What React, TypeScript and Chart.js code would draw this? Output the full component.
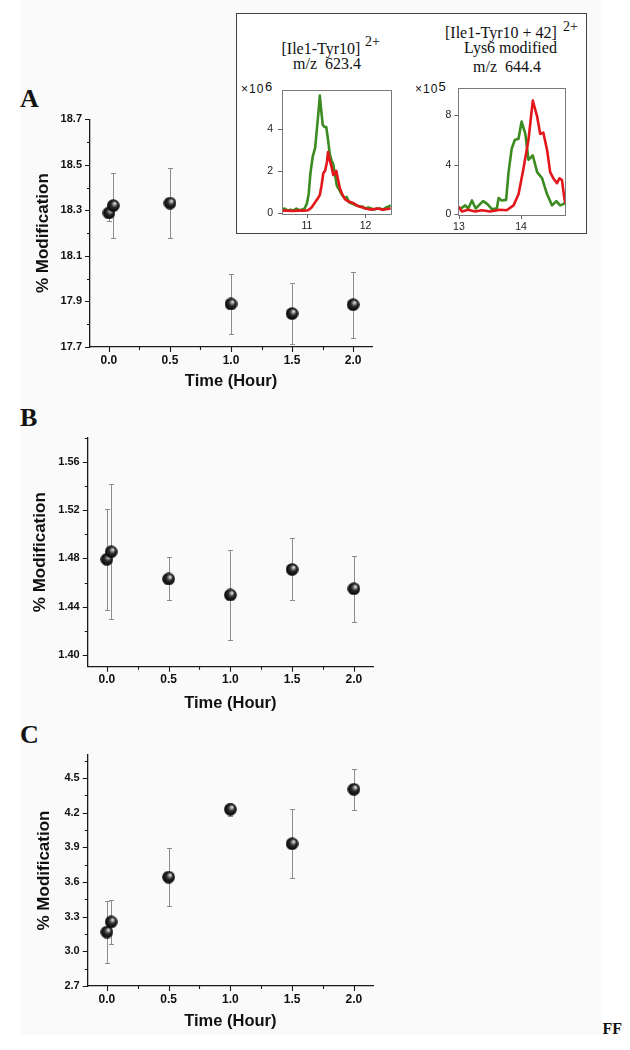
import React, { useEffect, useRef } from 'react';
import { Chart, registerables } from 'chart.js';

Chart.register(...registerables);

const SANS = '"Liberation Sans", Arial, Helvetica, sans-serif';
const SERIF = '"Liberation Serif", "Times New Roman", serif';

// ---------------- Panels A, B, C : % modification vs time ----------------
const timeHours = [0, 0.035, 0.5, 1.0, 1.5, 2.0];

const modificationA = [18.289, 18.321, 18.332, 17.889, 17.847, 17.886];
const errorA = [0.036, 0.144, 0.155, 0.13, 0.134, 0.145];

const modificationB = [1.4793, 1.4855, 1.463, 1.4497, 1.4709, 1.4549];
const errorB = [0.042, 0.056, 0.0178, 0.0373, 0.0257, 0.0273];

const modificationC = [3.167, 3.255, 3.643, 4.23, 3.932, 4.403];
const errorC = [0.27, 0.19, 0.25, 0.057, 0.3, 0.178];

const timeMajorTicks = [0, 0.5, 1.0, 1.5, 2.0];
const timeMinorTicks = [0.25, 0.75, 1.25, 1.75];

const yMajorA = [17.7, 17.9, 18.1, 18.3, 18.5, 18.7];
const yMinorA = [17.8, 18.0, 18.2, 18.4, 18.6];
const yMajorB = [1.4, 1.44, 1.48, 1.52, 1.56];
const yMinorB = [1.42, 1.46, 1.5, 1.54, 1.58];
const yMajorC = [2.7, 3.0, 3.3, 3.6, 3.9, 4.2, 4.5];
const yMinorC = [2.85, 3.15, 3.45, 3.75, 4.05, 4.35, 4.65];

// ---------------- Inset : extracted ion chromatograms ----------------
const leftGreenTime = [10.57, 10.62, 10.67, 10.72, 10.77, 10.82, 10.87, 10.92, 10.96, 11.0, 11.03, 11.06, 11.1, 11.14, 11.17, 11.2, 11.22, 11.24, 11.27, 11.3, 11.33, 11.36, 11.39, 11.42, 11.45, 11.48, 11.51, 11.55, 11.6, 11.64, 11.68, 11.72, 11.76, 11.8, 11.85, 11.9, 11.95, 12.0, 12.05, 12.1, 12.15, 12.2, 12.25, 12.3, 12.35, 12.4, 12.43];
const leftGreenIntensity = [0.15, 0.2, 0.1, 0.15, 0.1, 0.2, 0.12, 0.15, 0.2, 0.45, 0.9, 1.9, 2.7, 3.1, 4.0, 4.9, 5.6, 5.0, 4.2, 4.1, 4.1, 3.5, 2.8, 2.5, 2.3, 1.8, 1.3, 1.1, 0.85, 0.7, 0.75, 0.5, 0.45, 0.4, 0.35, 0.3, 0.3, 0.2, 0.25, 0.2, 0.15, 0.2, 0.2, 0.15, 0.25, 0.3, 0.35];
const leftRedTime = [10.57, 10.65, 10.75, 10.85, 10.95, 11.02, 11.08, 11.14, 11.19, 11.22, 11.25, 11.28, 11.31, 11.34, 11.36, 11.39, 11.42, 11.45, 11.48, 11.5, 11.53, 11.56, 11.6, 11.65, 11.7, 11.75, 11.8, 11.85, 11.9, 11.95, 12.0, 12.1, 12.2, 12.3, 12.43];
const leftRedIntensity = [0.1, 0.1, 0.08, 0.1, 0.1, 0.12, 0.25, 0.5, 0.7, 0.85, 1.3, 1.9, 2.0, 2.4, 2.9, 2.5, 2.2, 1.8, 1.9, 2.0, 1.6, 1.2, 0.9, 0.65, 0.55, 0.5, 0.45, 0.35, 0.3, 0.25, 0.2, 0.15, 0.2, 0.15, 0.2];

const rightGreenTime = [12.99, 13.05, 13.1, 13.15, 13.21, 13.27, 13.34, 13.39, 13.46, 13.53, 13.61, 13.64, 13.69, 13.76, 13.8, 13.85, 13.9, 13.96, 14.01, 14.07, 14.12, 14.19, 14.26, 14.34, 14.42, 14.5, 14.57, 14.63, 14.68, 14.72];
const rightGreenIntensity = [0.45, 0.5, 0.7, 0.45, 1.1, 0.45, 0.8, 1.05, 0.8, 0.4, 0.45, 1.3, 1.1, 1.15, 3.4, 5.3, 6.0, 6.1, 7.5, 6.5, 4.4, 4.75, 3.4, 2.9, 1.6, 0.7, 1.05, 0.7, 0.8, 0.95];
const rightRedTime = [12.99, 13.05, 13.15, 13.26, 13.37, 13.5, 13.66, 13.77, 13.88, 13.96, 14.04, 14.12, 14.19, 14.26, 14.31, 14.36, 14.42, 14.47, 14.52, 14.58, 14.62, 14.66, 14.7, 14.72];
const rightRedIntensity = [0.6, 0.2, 0.35, 0.2, 0.3, 0.2, 0.35, 0.3, 0.7, 1.6, 3.7, 6.0, 9.2, 7.9, 6.5, 6.6, 5.2, 3.4, 2.9, 2.5, 2.9, 2.75, 1.2, 0.85];

const leftInsetYTicks = [0, 2, 4];
const leftInsetXTicks = [11, 12];
const rightInsetYTicks = [0, 4, 8];
const rightInsetXTicks = [13, 14];

const RED = '#e2161b';
const GREEN = '#3b8b21';

// ---------------- helpers ----------------
function makeSphere(d: number) {
  const c = document.createElement('canvas');
  c.width = d;
  c.height = d;
  const g = c.getContext('2d')!;
  const grad = g.createRadialGradient(d * 0.64, d * 0.32, 0.3, d * 0.5, d * 0.5, d * 0.52);
  grad.addColorStop(0, '#f0f0f0');
  grad.addColorStop(0.18, '#9a9a9a');
  grad.addColorStop(0.45, '#2a2a2a');
  grad.addColorStop(1, '#000');
  g.fillStyle = grad;
  g.beginPath();
  g.arc(d / 2, d / 2, d / 2 - 0.2, 0, Math.PI * 2);
  g.fill();
  return c;
}

function ticksPlugin(cfg: any) {
  return {
    id: 'axisTicks',
    afterDraw(chart: any) {
      const { ctx, chartArea } = chart;
      const xs = chart.scales.x;
      const ys = chart.scales.y;
      const l = chartArea.left;
      const b = chartArea.bottom;
      ctx.save();
      if (cfg.frame) {
        ctx.strokeStyle = cfg.frame;
        ctx.lineWidth = 1;
        ctx.strokeRect(Math.round(l) + 0.5, Math.round(chartArea.top) + 0.5, Math.round(chartArea.right - l), Math.round(b - chartArea.top));
      }
      ctx.strokeStyle = cfg.color;
      ctx.lineWidth = cfg.lineWidth;
      ctx.beginPath();
      const xt = (vals: number[], len: number) =>
        vals.forEach((v) => {
          const px = Math.round(xs.getPixelForValue(v)) + 0.5;
          ctx.moveTo(px, b);
          ctx.lineTo(px, b + len);
        });
      const yt = (vals: number[], len: number) =>
        vals.forEach((v) => {
          const py = Math.round(ys.getPixelForValue(v)) + 0.5;
          ctx.moveTo(l, py);
          ctx.lineTo(l - len, py);
        });
      xt(cfg.xMajor, cfg.majorLen);
      xt(cfg.xMinor || [], cfg.minorLen);
      yt(cfg.yMajor, cfg.majorLen);
      yt(cfg.yMinor || [], cfg.minorLen);
      ctx.stroke();
      ctx.restore();
    },
  };
}

function errorBarPlugin(errors: number[]) {
  return {
    id: 'errorBars',
    beforeDatasetsDraw(chart: any) {
      const { ctx } = chart;
      const xs = chart.scales.x;
      const ys = chart.scales.y;
      const pts = chart.data.datasets[0].data;
      ctx.save();
      ctx.strokeStyle = '#8c8c8c';
      ctx.lineWidth = 1;
      ctx.beginPath();
      pts.forEach((p: any, i: number) => {
        const px = Math.round(xs.getPixelForValue(p.x)) + 0.5;
        const top = Math.round(ys.getPixelForValue(p.y + errors[i])) + 0.5;
        const bot = Math.round(ys.getPixelForValue(p.y - errors[i])) + 0.5;
        ctx.moveTo(px, top);
        ctx.lineTo(px, bot);
        ctx.moveTo(px - 2.5, top);
        ctx.lineTo(px + 2.5, top);
        ctx.moveTo(px - 2.5, bot);
        ctx.lineTo(px + 2.5, bot);
      });
      ctx.stroke();
      ctx.restore();
    },
  };
}

function buildPanel(p: any) {
  const sphere = makeSphere(13);
  const W = 390;
  return {
    type: 'scatter',
    data: {
      datasets: [
        {
          data: timeHours.map((t, i) => ({ x: t, y: p.values[i] })),
          pointStyle: sphere,
          pointRadius: 6.5,
          pointHoverRadius: 6.5,
        },
      ],
    },
    options: {
      animation: false,
      responsive: false,
      devicePixelRatio: 1,
      events: [],
      layout: { padding: { left: 0, top: p.area.top - p.canvasTop, right: W - p.area.right, bottom: 0 } },
      plugins: { legend: { display: false }, tooltip: { enabled: false } },
      scales: {
        x: {
          type: 'linear',
          min: -0.155,
          max: 2.155,
          afterBuildTicks: (s: any) => {
            s.ticks = timeMajorTicks.map((v) => ({ value: v }));
          },
          afterFit: (s: any) => {
            s.height = p.canvasTop + p.canvasHeight - p.area.bottom;
          },
          grid: { display: false, drawTicks: false },
          border: { display: true, color: '#1a1a1a', width: 1.3 },
          ticks: {
            autoSkip: false,
            maxRotation: 0,
            padding: 6,
            color: '#111',
            font: { family: SANS, size: 12, weight: 'bold' },
            callback: (v: any) => Number(v).toFixed(1),
          },
          title: {
            display: true,
            text: 'Time (Hour)',
            color: '#111',
            font: { family: SANS, size: 16.5, weight: 'bold' },
            padding: { top: 0, bottom: p.canvasTop + p.canvasHeight - p.xTitleY - 9.9 },
          },
        },
        y: {
          type: 'linear',
          min: p.yMin,
          max: p.yMax,
          afterBuildTicks: (s: any) => {
            s.ticks = p.yMajor.map((v: number) => ({ value: v }));
          },
          afterFit: (s: any) => {
            s.width = p.area.left;
          },
          grid: { display: false, drawTicks: false },
          border: { display: true, color: '#1a1a1a', width: 1.3 },
          ticks: {
            autoSkip: false,
            padding: 8,
            color: '#111',
            font: { family: SANS, size: 11, weight: 'bold' },
            callback: (v: any) => Number(v).toFixed(p.yDigits),
          },
          title: {
            display: true,
            text: '% Modification',
            color: '#111',
            font: { family: SANS, size: 17, weight: 'bold' },
            padding: { top: p.yTitleX - 10.2, bottom: 0 },
          },
        },
      },
    },
    plugins: [
      errorBarPlugin(p.errors),
      ticksPlugin({
        xMajor: timeMajorTicks,
        xMinor: timeMinorTicks,
        yMajor: p.yMajor,
        yMinor: p.yMinor,
        majorLen: 5,
        minorLen: 3,
        color: '#1a1a1a',
        lineWidth: 1.1,
      }),
    ],
  };
}

function buildInset(p: any) {
  const line = (xs: number[], ys: number[], color: string) => ({
    data: xs.map((x, i) => ({ x, y: ys[i] })),
    showLine: true,
    borderColor: color,
    borderWidth: 2.6,
    pointRadius: 0,
    tension: 0,
    borderJoinStyle: 'round',
  });
  return {
    type: 'scatter',
    data: {
      datasets: [line(p.redX, p.redY, RED), line(p.greenX, p.greenY, GREEN)],
    },
    options: {
      animation: false,
      responsive: false,
      devicePixelRatio: 1,
      events: [],
      layout: { padding: { left: 0, top: p.area.top - p.canvasTop, right: p.canvasLeft + p.canvasWidth - p.area.right, bottom: 0 } },
      plugins: { legend: { display: false }, tooltip: { enabled: false } },
      scales: {
        x: {
          type: 'linear',
          min: p.xMin,
          max: p.xMax,
          afterBuildTicks: (s: any) => {
            s.ticks = p.xTicks.map((v: number) => ({ value: v }));
          },
          afterFit: (s: any) => {
            s.height = p.canvasTop + p.canvasHeight - p.area.bottom;
          },
          grid: { display: false, drawTicks: false },
          border: { display: false },
          ticks: { autoSkip: false, maxRotation: 0, padding: 6, color: '#222', font: { family: SANS, size: 10.5 } },
        },
        y: {
          type: 'linear',
          min: p.yMin,
          max: p.yMax,
          afterBuildTicks: (s: any) => {
            s.ticks = p.yTicks.map((v: number) => ({ value: v }));
          },
          afterFit: (s: any) => {
            s.width = p.area.left - p.canvasLeft;
          },
          grid: { display: false, drawTicks: false },
          border: { display: false },
          ticks: { autoSkip: false, padding: p.yPad, color: '#222', font: { family: SANS, size: 10.5 } },
        },
      },
    },
    plugins: [
      ticksPlugin({
        xMajor: p.xTicks,
        yMajor: p.yTicks,
        majorLen: 4,
        minorLen: 2,
        color: '#666',
        lineWidth: 1,
        frame: '#7a7a7a',
      }),
    ],
  };
}

function ChartCanvas({ left, top, width, height, build }: any) {
  const ref = useRef<HTMLCanvasElement>(null);
  useEffect(() => {
    if (!ref.current) return;
    const chart = new Chart(ref.current, build());
    return () => chart.destroy();
  }, []);
  return (
    <canvas
      ref={ref}
      width={width}
      height={height}
      style={{ position: 'absolute', left, top, width, height, display: 'block' }}
    />
  );
}

function Txt({ left, top, size, bold, serif, children, spacing }: any) {
  return (
    <div
      style={{
        position: 'absolute',
        left,
        top,
        fontFamily: serif ? SERIF : SANS,
        fontSize: size,
        fontWeight: bold ? 'bold' : 'normal',
        lineHeight: `${size}px`,
        whiteSpace: 'pre',
        color: '#111',
        letterSpacing: spacing || 0,
      }}
    >
      {children}
    </div>
  );
}

export default function App() {
  return (
    <div style={{ position: 'absolute', left: 0, top: 0, width: 630, height: 1050, background: '#fff', overflow: 'hidden' }}>
      <div style={{ position: 'absolute', left: 20, top: 0, width: 581, height: 1035, background: '#fafafa' }} />

      {/* inset box */}
      <div style={{ position: 'absolute', left: 236, top: 13, width: 351, height: 221, boxSizing: 'border-box', border: '1px solid #444', background: '#fff' }} />
      <Txt left={281.5} top={40.5} size={16} serif>[Ile1-Tyr10]</Txt>
      <Txt left={365} top={35} size={14} serif>2+</Txt>
      <Txt left={293} top={56} size={16} serif>{'m/z  623.4'}</Txt>
      <Txt left={445} top={25} size={16} serif>[Ile1-Tyr10 + 42]</Txt>
      <Txt left={563} top={20} size={14} serif>2+</Txt>
      <Txt left={464} top={40.3} size={16} serif>Lys6 modified</Txt>
      <Txt left={473} top={59.3} size={16} serif>{'m/z  644.4'}</Txt>
      <Txt left={241} top={82.7} size={12} spacing={1}>×10</Txt>
      <Txt left={265} top={80.2} size={13}>6</Txt>
      <Txt left={415} top={82.7} size={12} spacing={1}>×10</Txt>
      <Txt left={438.5} top={80.2} size={13}>5</Txt>

      <ChartCanvas
        left={240}
        top={75}
        width={160}
        height={160}
        build={() =>
          buildInset({
            canvasLeft: 240, canvasTop: 75, canvasWidth: 160, canvasHeight: 160,
            area: { left: 282, top: 82.7, right: 391, bottom: 214 },
            xMin: 10.574, xMax: 12.436, yMin: -0.06, yMax: 5.85,
            xTicks: leftInsetXTicks, yTicks: leftInsetYTicks, yPad: 9,
            greenX: leftGreenTime, greenY: leftGreenIntensity,
            redX: leftRedTime, redY: leftRedIntensity,
          })
        }
      />
      <ChartCanvas
        left={410}
        top={75}
        width={170}
        height={160}
        build={() =>
          buildInset({
            canvasLeft: 410, canvasTop: 75, canvasWidth: 170, canvasHeight: 160,
            area: { left: 458.3, top: 82.7, right: 565.7, bottom: 215 },
            xMin: 12.99, xMax: 14.72, yMin: -0.08, yMax: 10.2,
            xTicks: rightInsetXTicks, yTicks: rightInsetYTicks, yPad: 7,
            greenX: rightGreenTime, greenY: rightGreenIntensity,
            redX: rightRedTime, redY: rightRedIntensity,
          })
        }
      />

      {/* panel letters */}
      <Txt left={20} top={86.2} size={26} bold serif>A</Txt>
      <Txt left={20} top={405.2} size={26} bold serif>B</Txt>
      <Txt left={20} top={722.2} size={26} bold serif>C</Txt>
      <Txt left={602.5} top={1021} size={16} bold serif>FF</Txt>

      <ChartCanvas
        left={0}
        top={100}
        width={390}
        height={300}
        build={() =>
          buildPanel({
            values: modificationA, errors: errorA,
            yMin: 17.7, yMax: 18.7, yMajor: yMajorA, yMinor: yMinorA, yDigits: 1,
            canvasTop: 100, canvasHeight: 300,
            area: { left: 90, top: 119.3, right: 372, bottom: 347 },
            yTitleX: 43.5, xTitleY: 381.7,
          })
        }
      />
      <ChartCanvas
        left={0}
        top={420}
        width={390}
        height={300}
        build={() =>
          buildPanel({
            values: modificationB, errors: errorB,
            yMin: 1.3903, yMax: 1.58, yMajor: yMajorB, yMinor: yMinorB, yDigits: 2,
            canvasTop: 420, canvasHeight: 300,
            area: { left: 87.7, top: 437.7, right: 373, bottom: 666.7 },
            yTitleX: 40, xTitleY: 703,
          })
        }
      />
      <ChartCanvas
        left={0}
        top={740}
        width={390}
        height={300}
        build={() =>
          buildPanel({
            values: modificationC, errors: errorC,
            yMin: 2.7, yMax: 4.7, yMajor: yMajorC, yMinor: yMinorC, yDigits: 1,
            canvasTop: 740, canvasHeight: 300,
            area: { left: 87.7, top: 755, right: 373, bottom: 986 },
            yTitleX: 44.5, xTitleY: 1021.7,
          })
        }
      />
    </div>
  );
}
